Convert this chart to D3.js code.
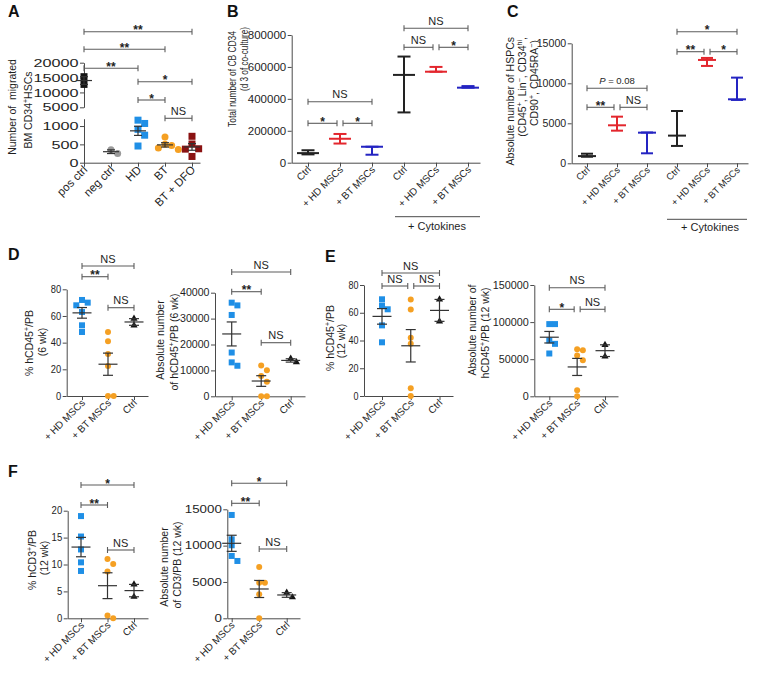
<!DOCTYPE html>
<html><head><meta charset="utf-8">
<script src="https://cdn.jsdelivr.net/npm/d3@7"></script>
<style>
body{margin:0;background:#fff}
svg{display:block;font-family:Arial,"Liberation Sans",Helvetica,sans-serif}
</style></head><body>
<svg id="chart" width="762" height="698"></svg>
<script>
// ================= DATA =================
// Panel A: migrated BM CD34+ HSCs
const aCategories = ["pos ctrl", "neg ctrl", "HD", "BT", "BT + DFO"];
const aPosCtrl = [15300, 12700];
const aNegCtrl = [350, 250];
const aHD = [1160, 1070, 910, 750, 455];
const aBT = [700, 500, 470, 400, 360];
const aBTDFO = [720, 510, 380, 370, 170];
const aLowTicks = [0, 500, 1000];
const aHighTicks = [5000, 10000, 15000, 20000];

// Panel B: total number of CB CD34 (mean, upper, lower)
const bLabels = ["Ctrl", "+ HD MSCs", "+ BT MSCs", "Ctrl", "+ HD MSCs", "+ BT MSCs"];
const bMean = [60000, 150000, 100000, 550000, 570000, 470000];
const bHigh = [78000, 180000, 100000, 665000, 600000, 480000];
const bLow = [52000, 120000, 50000, 315000, 570000, 470000];
const bTicks = [0, 200000, 400000, 600000, 800000];

// Panel C: absolute number of HSPCs
const cLabels = ["Ctrl", "+ HD MSCs", "+ BT MSCs", "Ctrl", "+ HD MSCs", "+ BT MSCs"];
const cMean = [900, 4750, 3830, 3460, 12920, 8000];
const cHigh = [1200, 5830, 3850, 6540, 13170, 10710];
const cLow = [820, 4080, 1250, 2170, 12170, 7920];
const cTicks = [0, 5000, 10000, 15000];

// Panels D-F: groups
const groupLabels = ["+ HD MSCs", "+ BT MSCs", "Ctrl"];
// D: % hCD45+/PB (6 wk) and absolute number
const d1HD = [72, 70, 68, 63, 53, 48];
const d1BT = [48, 41, 31.5, 22.5, 0, 0];
const d1Ctrl = [58, 53];
const d2HD = [36150, 35100, 31400, 16900, 13100, 11800];
const d2BT = [11900, 10100, 7800, 5600, 0, 0];
const d2Ctrl = [14500, 13200];
// E: 12 wk
const e1HD = [69.7, 65.1, 62.5, 50.9, 38.7];
const e1BT = [69.6, 62.4, 42, 37.7, 5.5, 0];
const e1Ctrl = [69.6, 53.8];
const e2HD = [97300, 97300, 75200, 70700, 57700];
const e2BT = [63500, 62200, 55000, 48600, 8100, 0];
const e2Ctrl = [69400, 53600];
// F: hCD3+ (12 wk)
const f1HD = [19, 15.2, 12.8, 10.4, 8.8];
const f1BT = [11, 10.1, 8.7, 0.5, 0];
const f1Ctrl = [6.3, 4.0];
const f2HD = [14220, 10870, 10050, 8580, 7890];
const f2BT = [7070, 4900, 4900, 3300, 0];
const f2Ctrl = [3530, 2890];

const pctTicks = [0, 20, 40, 60, 80];
const d2Ticks = [0, 10000, 20000, 30000, 40000];
const e2Ticks = [0, 50000, 100000, 150000];
const f1Ticks = [0, 5, 10, 15, 20];
const f2Ticks = [0, 5000, 10000, 15000];

// ================= STYLE =================
const AX = "#4a4a4a", TX = "#1e1e1e", BR = "#5c5c5c", MEANC = "#333";
const SKY = "#1f8fe6", ORANGE = "#f5a023", BLACK = "#141414", GRAYPT = "#9a9a9a", DARKRED = "#8a1212";
const RED_EB = "#e3262d", BLUE_EB = "#2424c2", BLACK_EB = "#222";
const FF = 'Arial,"Liberation Sans",sans-serif';

const svg = d3.select("#chart");

function letter(t, x, y) {
  svg.append("text").attr("x", x).attr("y", y).attr("font-size", 16)
    .attr("font-weight", "bold").attr("fill", "#111").text(t);
}

function rich(sel, parts, fs) {
  let shifted = false;
  parts.forEach(p => {
    if (Array.isArray(p)) {
      const t = sel.append("tspan").attr("font-size", fs * 0.68).text(p[0]);
      if (!shifted) t.attr("dy", -fs * 0.38);
      shifted = true;
    } else {
      const t = sel.append("tspan").text(p);
      if (shifted) { t.attr("dy", fs * 0.38); shifted = false; }
    }
  });
}

function yTitle(x, y, parts, anchor, fs, len) {
  const t = svg.append("text").attr("transform", `translate(${x},${y}) rotate(-90)`)
    .attr("font-size", fs).attr("fill", TX);
  rich(t, parts, fs);
  if (len) {
    const off = anchor === "end" ? -len : anchor === "middle" ? -len / 2 : 0;
    t.attr("text-anchor", "start").attr("x", off)
      .attr("textLength", len).attr("lengthAdjust", "spacingAndGlyphs");
  } else {
    t.attr("text-anchor", anchor);
  }
}

function drawYAxis(scale, x, ticks, digitW, fs) {
  const g = svg.append("g").attr("transform", `translate(${x},0)`);
  g.call(d3.axisLeft(scale).tickValues(ticks).tickSize(4).tickPadding(1.5)
    .tickSizeOuter(0).tickFormat(d3.format("d")));
  g.select(".domain").attr("stroke", AX);
  g.selectAll(".tick line").attr("stroke", AX);
  g.selectAll(".tick text").attr("font-size", fs).attr("fill", TX).attr("font-family", FF)
    .each(function () {
      const s = this.textContent;
      const len = s.length * digitW;
      d3.select(this).attr("text-anchor", "start").attr("x", -5.5 - len)
        .attr("textLength", len).attr("lengthAdjust", "spacingAndGlyphs");
    });
}

function drawXAxis(x0, x1, y, positions, labels, fs, lx, ly) {
  const lin = d3.scaleLinear().domain([x0, x1]).range([x0, x1]);
  const g = svg.append("g").attr("transform", `translate(0,${y})`);
  g.call(d3.axisBottom(lin).tickValues(positions).tickSize(4).tickSizeOuter(0)
    .tickFormat((d, i) => labels[i]));
  g.select(".domain").attr("stroke", AX);
  g.selectAll(".tick line").attr("stroke", AX);
  g.selectAll(".tick text").attr("font-size", fs).attr("fill", TX).attr("font-family", FF)
    .attr("x", lx).attr("y", ly).attr("dy", "0.35em")
    .attr("transform", "rotate(-45)").style("text-anchor", "end");
}

function brackets(list, xs, fsNS, fsStar) {
  list.forEach(b => {
    let x1 = xs(b.i), x2 = xs(b.j);
    if (list.some(o => o !== b && o.y === b.y && o.j === b.i)) x1 += 3;
    if (list.some(o => o !== b && o.y === b.y && o.i === b.j)) x2 -= 3;
    const g = svg.append("g").attr("stroke", BR).attr("stroke-width", 1.1);
    g.append("line").attr("x1", x1).attr("x2", x2).attr("y1", b.y).attr("y2", b.y);
    g.append("line").attr("x1", x1).attr("x2", x1).attr("y1", b.y - 3).attr("y2", b.y + 3);
    g.append("line").attr("x1", x2).attr("x2", x2).attr("y1", b.y - 3).attr("y2", b.y + 3);
    const cx = (x1 + x2) / 2;
    if (b.label === "P") {
      const t = svg.append("text").attr("x", cx).attr("y", b.y - 4).attr("text-anchor", "middle")
        .attr("font-size", 9.5).attr("fill", TX);
      t.append("tspan").attr("font-style", "italic").text("P");
      t.append("tspan").text(" = 0.08");
    } else if (b.label === "NS") {
      svg.append("text").attr("x", cx).attr("y", b.y - 3.5).attr("text-anchor", "middle")
        .attr("font-size", fsNS).attr("fill", TX).text("NS");
    } else {
      svg.append("text").attr("x", cx).attr("y", b.y + 2.5).attr("text-anchor", "middle")
        .attr("font-size", fsStar).attr("font-weight", "bold").attr("fill", TX).text(b.label);
    }
  });
}

function dodge(values, yFn, size) {
  const placed = [];
  const step = size * 0.95;
  const cands = [0, step, -step, 2 * step, -2 * step, 3 * step, -3 * step];
  return values.map(v => {
    const y = yFn(v);
    for (const dx of cands) {
      if (placed.every(p => Math.abs(p.dx - dx) >= step || Math.abs(p.y - y) >= step)) {
        placed.push({dx, y}); return {v, dx, y};
      }
    }
    placed.push({dx: 0, y}); return {v, dx: 0, y};
  });
}

function marker(cx, cy, shape, color, size) {
  if (shape === "square") {
    svg.append("rect").attr("x", cx - size / 2).attr("y", cy - size / 2)
      .attr("width", size).attr("height", size).attr("fill", color);
  } else if (shape === "circle") {
    svg.append("circle").attr("cx", cx).attr("cy", cy).attr("r", size / 2).attr("fill", color);
  } else {
    svg.append("path").attr("d", d3.symbol(d3.symbolTriangle, size * size * 0.62)())
      .attr("transform", `translate(${cx},${cy})`).attr("fill", color);
  }
}

function scatterGroup(values, cx, yFn, shape, color, size, meanW, capW) {
  dodge(values, yFn, size).forEach(p => marker(cx + p.dx, p.y, shape, color, size));
  const m = d3.mean(values);
  const sem = d3.deviation(values) / Math.sqrt(values.length);
  const g = svg.append("g").attr("stroke", MEANC).attr("stroke-width", 1.2);
  g.append("line").attr("x1", cx - meanW / 2).attr("x2", cx + meanW / 2).attr("y1", yFn(m)).attr("y2", yFn(m));
  g.append("line").attr("x1", cx).attr("x2", cx).attr("y1", yFn(m - sem)).attr("y2", yFn(m + sem));
  [m - sem, m + sem].forEach(v =>
    g.append("line").attr("x1", cx - capW / 2).attr("x2", cx + capW / 2).attr("y1", yFn(v)).attr("y2", yFn(v)));
}

function errGroup(mean, hi, lo, cx, y, color, meanW, capW) {
  const g = svg.append("g").attr("stroke", color).attr("stroke-width", 2);
  g.append("line").attr("x1", cx).attr("x2", cx).attr("y1", y(lo)).attr("y2", y(hi));
  g.append("line").attr("x1", cx - capW / 2).attr("x2", cx + capW / 2).attr("y1", y(hi)).attr("y2", y(hi));
  g.append("line").attr("x1", cx - capW / 2).attr("x2", cx + capW / 2).attr("y1", y(lo)).attr("y2", y(lo));
  g.append("line").attr("x1", cx - meanW / 2).attr("x2", cx + meanW / 2).attr("y1", y(mean)).attr("y2", y(mean));
}

// ================= PANEL A =================
letter("A", 8, 17);
(function () {
  const ax = 84;
  const yLow = d3.scaleLinear().domain([0, 1200]).range([162.7, 118.7]);
  const yHigh = d3.scaleLinear().domain([5000, 20000]).range([107.3, 62.7]);
  const yA = v => v >= 3000 ? yHigh(v) : yLow(v);
  const x = d3.scalePoint().domain(aCategories).range([84, 192]);
  drawYAxis(yLow, ax, aLowTicks, 9.0, 11.5);
  drawYAxis(yHigh, ax, aHighTicks, 9.0, 11.5);
  drawXAxis(ax, 200, 162.7, aCategories.map(c => x(c)), aCategories, 11.5, -3, 4);
  const groups = [
    [aPosCtrl, "square", BLACK], [aNegCtrl, "circle", GRAYPT], [aHD, "square", SKY],
    [aBT, "circle", ORANGE], [aBTDFO, "square", DARKRED]];
  groups.forEach((g, i) => scatterGroup(g[0], x(aCategories[i]), yA, g[1], g[2], 7, 16, 8));
  yTitle(16, 107, ["Number of\u00a0 migrated"], "middle", 10.5);
  yTitle(32, 110, ["BM CD34", ["+"], "HSCs"], "middle", 10.5);
  const xi = i => x(aCategories[i]);
  brackets([
    {i: 0, j: 4, label: "**", y: 31.7}, {i: 0, j: 3, label: "**", y: 49.3},
    {i: 0, j: 2, label: "**", y: 68.3}, {i: 2, j: 4, label: "*", y: 81.7},
    {i: 2, j: 3, label: "*", y: 100}, {i: 3, j: 4, label: "NS", y: 118.3}], xi, 11, 12);
})();

// ================= PANEL B =================
letter("B", 227, 17);
(function () {
  const ax = 291.7;
  const y = d3.scaleLinear().domain([0, 800000]).range([162.7, 35]);
  const x = d3.scalePoint().domain(d3.range(bLabels.length)).range([308, 468]);
  drawYAxis(y, ax, bTicks, 6.4, 10.5);
  drawXAxis(ax, 480, 162.7, d3.range(bLabels.length).map(i => x(i)), bLabels, 10, -3, 4);
  const cols = [BLACK_EB, RED_EB, BLUE_EB, BLACK_EB, RED_EB, BLUE_EB];
  bMean.forEach((m, i) => errGroup(m, bHigh[i], bLow[i], x(i), y, cols[i], 22, 13));
  yTitle(236, 31, ["Total number of CB CD34"], "end", 11, 96);
  yTitle(248, 27, ["(d 3 of co-culture)"], "end", 11, 64);
  brackets([
    {i: 0, j: 2, label: "NS", y: 101.7}, {i: 0, j: 1, label: "*", y: 123.3}, {i: 1, j: 2, label: "*", y: 123.3},
    {i: 3, j: 5, label: "NS", y: 28.3}, {i: 3, j: 4, label: "NS", y: 47.3}, {i: 4, j: 5, label: "*", y: 47.3}], x, 11, 12);
  svg.append("line").attr("x1", 395).attr("x2", 480).attr("y1", 216.7).attr("y2", 216.7).attr("stroke", AX);
  svg.append("text").attr("x", 437).attr("y", 230).attr("text-anchor", "middle")
    .attr("font-size", 11).attr("fill", TX).text("+ Cytokines");
})();

// ================= PANEL C =================
letter("C", 507, 17);
(function () {
  const ax = 571.7;
  const y = d3.scaleLinear().domain([0, 15000]).range([163.3, 43.3]);
  const x = d3.scalePoint().domain(d3.range(cLabels.length)).range([587, 737]);
  drawYAxis(y, ax, cTicks, 5.9, 10);
  drawXAxis(ax, 748, 163.3, d3.range(cLabels.length).map(i => x(i)), cLabels, 9.5, -3, 4);
  const cols = [BLACK_EB, RED_EB, BLUE_EB, BLACK_EB, RED_EB, BLUE_EB];
  cMean.forEach((m, i) => errGroup(m, cHigh[i], cLow[i], x(i), y, cols[i], 18, 12));
  yTitle(514, 37, ["Absolute number of HSPCs"], "end", 10.5);
  yTitle(526, 37, ["(CD45", ["+"], ", Lin", ["\u2212"], ", CD34", ["hi"], ","], "end", 10.5);
  yTitle(537.5, 40, ["CD90", ["+"], ", CD45RA", ["\u2212"], ")"], "end", 10.5);
  brackets([
    {i: 0, j: 2, label: "P", y: 88.3}, {i: 0, j: 1, label: "**", y: 107.3}, {i: 1, j: 2, label: "NS", y: 107.3},
    {i: 3, j: 5, label: "*", y: 31.7}, {i: 3, j: 4, label: "**", y: 51.7}, {i: 4, j: 5, label: "*", y: 51.7}], x, 11, 12);
  svg.append("line").attr("x1", 667).attr("x2", 747).attr("y1", 219.3).attr("y2", 219.3).attr("stroke", AX);
  svg.append("text").attr("x", 710).attr("y", 231).attr("text-anchor", "middle")
    .attr("font-size", 11).attr("fill", TX).text("+ Cytokines");
})();

// ================= PANELS D-F =================
letter("D", 8, 260);
letter("E", 325, 262);
letter("F", 8, 477);

const scatterPanels = [
  {hd: d1HD, bt: d1BT, ctrl: d1Ctrl, ticks: pctTicks, max: 80, ax: 66.7, xEnd: 148, y0: 396, y1: 289.3,
   cats: [82, 134], dw: 5.2,
   br: [{i: 0, j: 2, label: "NS", y: 266}, {i: 0, j: 1, label: "**", y: 276.7}, {i: 1, j: 2, label: "NS", y: 307.7}],
   titles: [[33, 343, ["% hCD45", ["+"], "/PB"]], [46, 342, ["(6 wk)"]]]},
  {hd: d2HD, bt: d2BT, ctrl: d2Ctrl, ticks: d2Ticks, max: 40000, ax: 215, xEnd: 305, y0: 396.3, y1: 292.7,
   cats: [231.7, 290.7], dw: 5.9,
   br: [{i: 0, j: 2, label: "NS", y: 272}, {i: 0, j: 1, label: "**", y: 291.7}, {i: 1, j: 2, label: "NS", y: 342.7}],
   titles: [[164, 340, ["Absolute number"]], [177.5, 342, ["of hCD45", ["+"], "/PB (6 wk)"]]]},
  {hd: e1HD, bt: e1BT, ctrl: e1Ctrl, ticks: pctTicks, max: 80, ax: 364, xEnd: 453, y0: 396, y1: 285,
   cats: [382, 439.5], dw: 5.0,
   br: [{i: 0, j: 2, label: "NS", y: 273}, {i: 0, j: 1, label: "NS", y: 286}, {i: 1, j: 2, label: "NS", y: 286}],
   titles: [[334, 338, ["% hCD45", ["+"], "/PB"]], [345, 341, ["(12 wk)"]]]},
  {hd: e2HD, bt: e2BT, ctrl: e2Ctrl, ticks: e2Ticks, max: 150000, ax: 534.3, xEnd: 618, y0: 396.3, y1: 285,
   cats: [549.3, 605], dw: 6.0,
   br: [{i: 0, j: 2, label: "NS", y: 287.7}, {i: 0, j: 1, label: "*", y: 309.3}, {i: 1, j: 2, label: "NS", y: 309.3}],
   titles: [[476, 330, ["Absolute number of"]], [489, 333, ["hCD45", ["+"], "/PB (12 wk)"]]]},
  {hd: f1HD, bt: f1BT, ctrl: f1Ctrl, ticks: f1Ticks, max: 20, ax: 67.7, xEnd: 148, y0: 618.3, y1: 510.7,
   cats: [81, 134], dw: 5.3,
   br: [{i: 0, j: 2, label: "*", y: 485}, {i: 0, j: 1, label: "**", y: 505}, {i: 1, j: 2, label: "NS", y: 550}],
   titles: [[36, 560, ["% hCD3", ["+"], "/PB"]], [48, 558, ["(12 wk)"]]]},
  {hd: f2HD, bt: f2BT, ctrl: f2Ctrl, ticks: f2Ticks, max: 15000, ax: 227.3, xEnd: 300, y0: 618.3, y1: 509.3,
   cats: [231.7, 286.7], dw: 7.4,
   br: [{i: 0, j: 2, label: "*", y: 483.3}, {i: 0, j: 1, label: "**", y: 503.3}, {i: 1, j: 2, label: "NS", y: 549}],
   titles: [[168, 567, ["Absolute number"]], [181, 565, ["of CD3/PB (12 wk)"]]]}
];

scatterPanels.forEach(p => {
  const y = d3.scaleLinear().domain([0, p.max]).range([p.y0, p.y1]);
  const x = d3.scalePoint().domain(d3.range(3)).range(p.cats);
  drawYAxis(y, p.ax, p.ticks, p.dw, 10);
  drawXAxis(p.ax, p.xEnd, p.y0, d3.range(3).map(i => x(i)), groupLabels, 10, -3, 4);
  scatterGroup(p.hd, x(0), y, "square", SKY, 6, 19, 10);
  scatterGroup(p.bt, x(1), y, "circle", ORANGE, 6, 19, 10);
  scatterGroup(p.ctrl, x(2), y, "triangle", BLACK, 6, 19, 10);
  p.titles.forEach(t => yTitle(t[0], t[1], t[2], "middle", 10.5));
  brackets(p.br, x, 11, 12);
});
</script>
</body></html>
